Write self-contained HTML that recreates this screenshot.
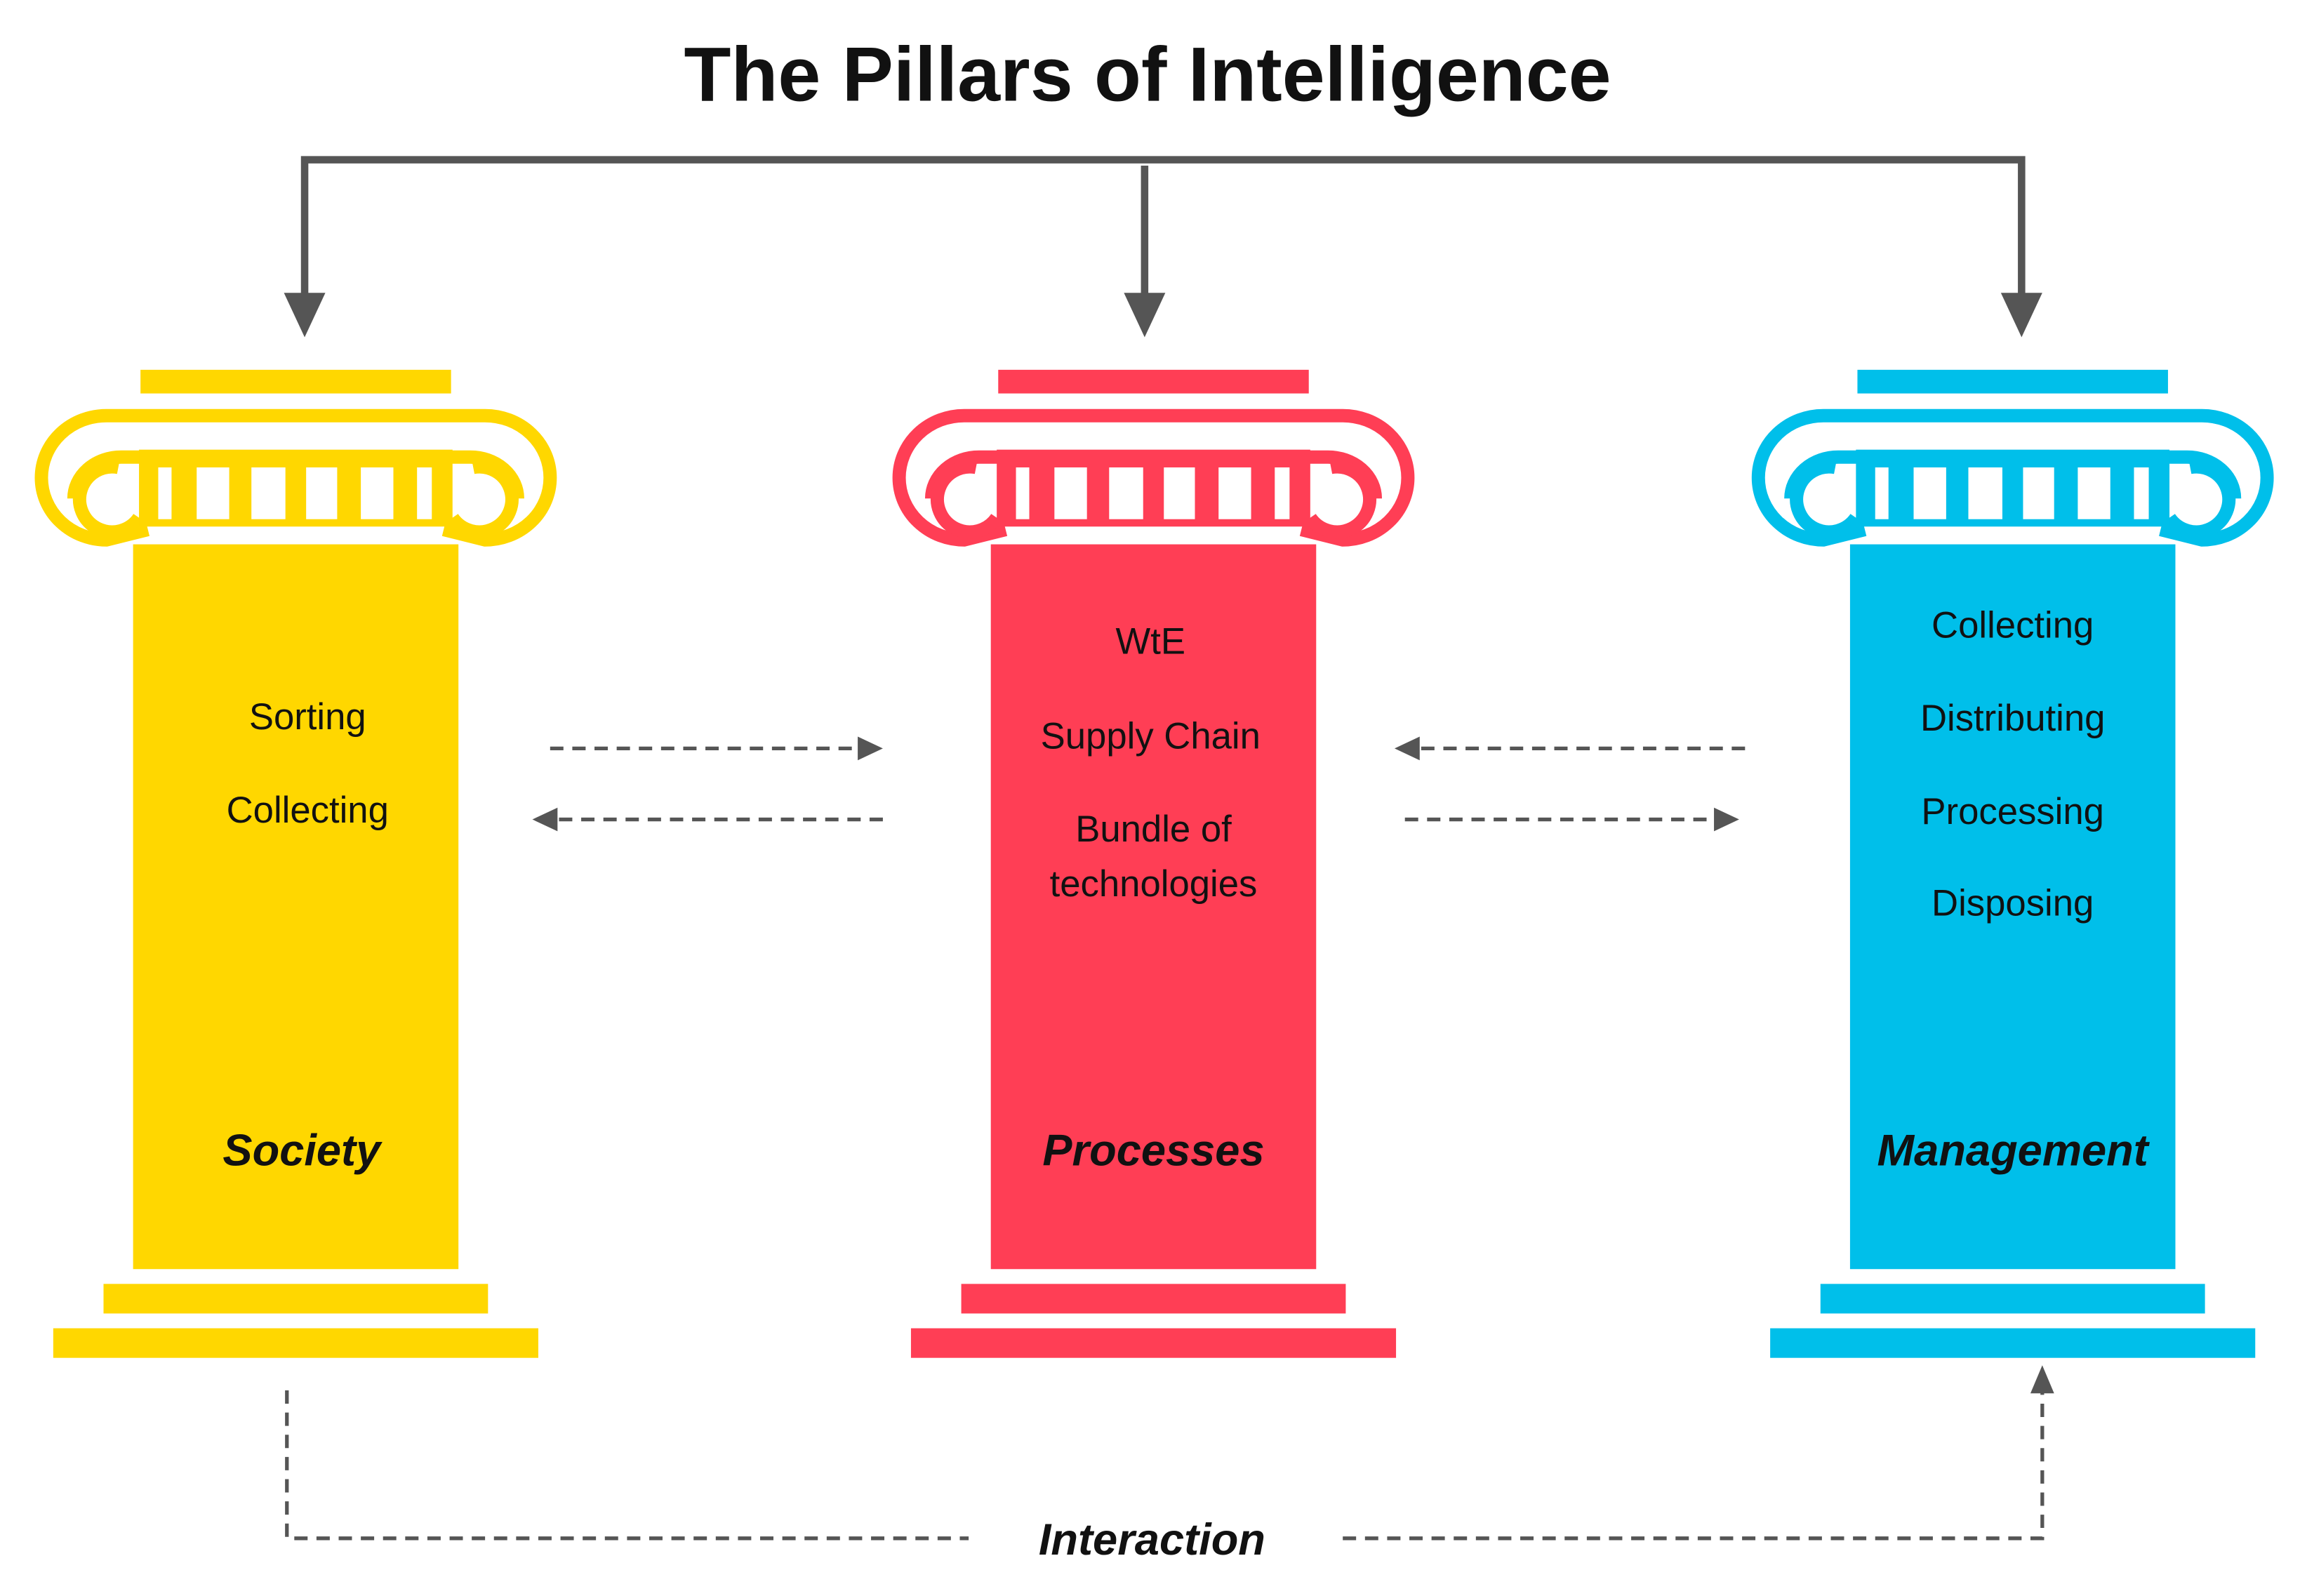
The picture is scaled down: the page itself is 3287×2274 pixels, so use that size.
<!DOCTYPE html>
<html><head><meta charset="utf-8"><style>
html,body{margin:0;padding:0;background:#fff;}
svg{display:block;}
text{font-family:"Liberation Sans",sans-serif;}
</style></head><body>
<svg width="3287" height="2274" viewBox="0 0 1560 1079" preserveAspectRatio="none" xmlns="http://www.w3.org/2000/svg">
<defs>
<g id="cap">
  <rect x="-105" y="250" width="210" height="16" fill="currentColor"/>
  <path d="M -128 281 L 128 281 A 44 42 0 0 1 128 365 L 100 358 M -128 281 A 44 42 0 0 0 -128 365 L -100 358" fill="none" stroke="currentColor" stroke-width="9"/>
  <path d="M 104 309 L 118 309 A 32 28 0 0 1 150 337 M -104 309 L -118 309 A 32 28 0 0 0 -150 337" fill="none" stroke="currentColor" stroke-width="9"/>
  <path d="M -120 316 A 22 22 0 1 0 -106 350 M 120 316 A 22 22 0 1 1 106 350" fill="none" stroke="currentColor" stroke-width="9"/>
  <rect x="-106" y="304" width="212" height="52" fill="currentColor"/>
  <g fill="#fff">
    <rect x="-93" y="316" width="9" height="35"/>
    <rect x="-67" y="316" width="22" height="35"/>
    <rect x="-30" y="316" width="23" height="35"/>
    <rect x="7" y="316" width="21" height="35"/>
    <rect x="44" y="316" width="22" height="35"/>
    <rect x="82" y="316" width="10" height="35"/>
  </g>
  <rect x="-110" y="368" width="220" height="490" fill="currentColor"/>
  <rect x="-130" y="868" width="260" height="20" fill="currentColor"/>
  <rect x="-164" y="898" width="328" height="20" fill="currentColor"/>
</g>
</defs>

<text x="776" y="68" text-anchor="middle" font-size="52" font-weight="bold" fill="#111">The Pillars of Intelligence</text>

<g stroke="#555" stroke-width="5" fill="none">
  <path d="M 206 205 L 206 108 L 1367 108 L 1367 205"/>
  <path d="M 774 112 L 774 205"/>
</g>
<g fill="#555">
  <polygon points="192,198 220,198 206,228"/>
  <polygon points="760,198 788,198 774,228"/>
  <polygon points="1353,198 1381,198 1367,228"/>
</g>

<g transform="translate(200,0)" style="color:#FFD700"><use href="#cap"/></g>
<g transform="translate(780,0)" style="color:#FF3E55"><use href="#cap"/></g>
<g transform="translate(1361,0)" style="color:#00BFEA"><use href="#cap"/></g>

<g font-size="25" fill="#111" text-anchor="middle">
  <text x="208" y="493">Sorting</text>
  <text x="208" y="556">Collecting</text>
  <text x="778" y="442">WtE</text>
  <text x="778" y="506">Supply Chain</text>
  <text x="780" y="569">Bundle of</text>
  <text x="780" y="606">technologies</text>
  <text x="1361" y="431">Collecting</text>
  <text x="1361" y="494">Distributing</text>
  <text x="1361" y="557">Processing</text>
  <text x="1361" y="619">Disposing</text>
</g>
<g font-size="30" font-weight="bold" font-style="italic" fill="#111" text-anchor="middle">
  <text x="204" y="788">Society</text>
  <text x="780" y="788">Processes</text>
  <text x="1361" y="788">Management</text>
  <text x="779" y="1051">Interaction</text>
</g>

<g stroke="#555" stroke-width="2.5" stroke-dasharray="9 6" fill="none">
  <line x1="372" y1="506" x2="582" y2="506"/>
  <line x1="597" y1="554" x2="376" y2="554"/>
  <line x1="1180" y1="506" x2="958" y2="506"/>
  <line x1="950" y1="554" x2="1160" y2="554"/>
  <path d="M 194 940 L 194 1040 L 655 1040"/>
  <path d="M 908 1040 L 1381 1040 L 1381 940"/>
</g>
<g fill="#555">
  <polygon points="580,498 597,506 580,514"/>
  <polygon points="377,546 360,554 377,562"/>
  <polygon points="960,498 943,506 960,514"/>
  <polygon points="1159,546 1176,554 1159,562"/>
  <polygon points="1373,942 1381,923 1389,942"/>
</g>
</svg>
</body></html>
